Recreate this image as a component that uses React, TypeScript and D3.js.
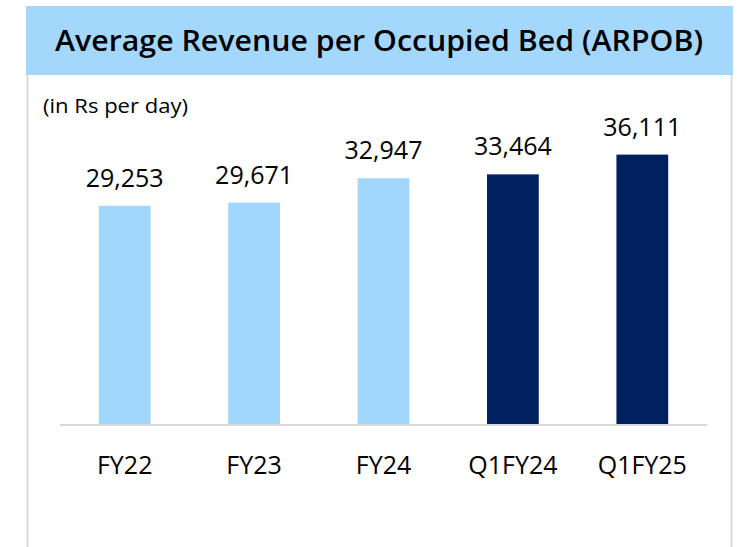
import React from "react";
import * as d3 from "d3";

const categories = ["FY22", "FY23", "FY24", "Q1FY24", "Q1FY25"];
const values = [29253, 29671, 32947, 33464, 36111];
const barColors = ["#A1D6FD", "#A1D6FD", "#A1D6FD", "#002060", "#002060"];
const title = "Average Revenue per Occupied Bed (ARPOB)";
const subtitle = "(in Rs per day)";

export default function App() {
  const W = 740, H = 547;
  const x = d3.scaleBand<string>().domain(categories).range([60, 707]).paddingInner(0.6).paddingOuter(0.3);
  const y = d3.scaleLinear().domain([0, 40000]).range([424, 125.6]);
  const fmt = d3.format(",");
  const font = "'Open Sans', 'Noto Sans', sans-serif";
  return (
    <svg width={W} height={H} style={{ position: "absolute", left: 0, top: 0, background: "#fff" }}>
      <line x1={27.5} x2={27.5} y1={75} y2={H} stroke="#d0d0d0" strokeWidth={1.5} />
      <line x1={731.5} x2={731.5} y1={75} y2={H} stroke="#d0d0d0" strokeWidth={1.5} />
      <rect x={26} y={6} width={707} height={69} fill="#A3D8FC" />
      <text x={379} y={51} textAnchor="middle" fontFamily={font} fontWeight={600} fontSize={29}
        textLength={648} lengthAdjust="spacingAndGlyphs" fill="#000">{title}</text>
      <text x={43} y={113} fontFamily={font} fontSize={20} fill="#000"
        textLength={145} lengthAdjust="spacingAndGlyphs">{subtitle}</text>
      {categories.map((c, i) => (
        <g key={c}>
          <rect x={x(c)} y={y(values[i])} width={x.bandwidth()} height={y(0) - y(values[i])} fill={barColors[i]} />
          <text x={(x(c) as number) + x.bandwidth() / 2} y={y(values[i]) - 19} textAnchor="middle"
            fontFamily={font} fontSize={25} fill="#000">{fmt(values[i])}</text>
          <text x={(x(c) as number) + x.bandwidth() / 2} y={474} textAnchor="middle"
            fontFamily={font} fontSize={25} fill="#000">{c}</text>
        </g>
      ))}
      <line x1={60} x2={707} y1={y(0) + 1} y2={y(0) + 1} stroke="#d9d9d9" strokeWidth={2} />
    </svg>
  );
}
